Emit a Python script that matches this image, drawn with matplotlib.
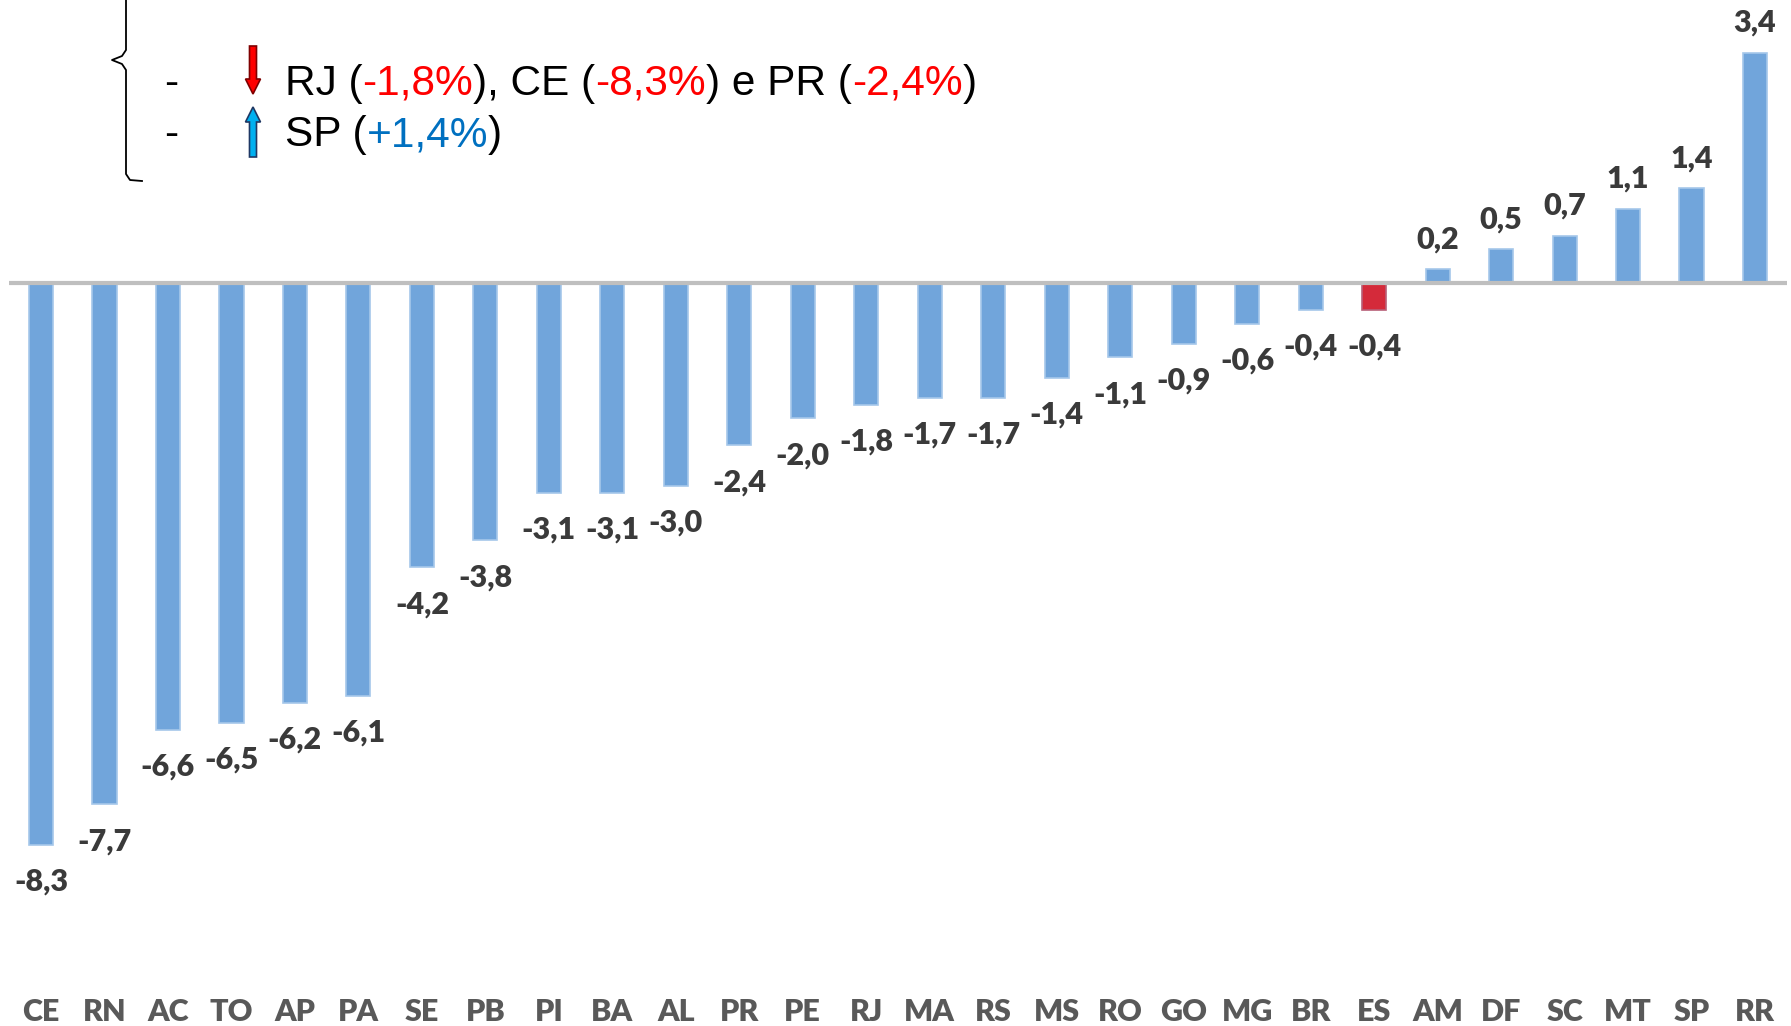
import matplotlib
matplotlib.use("Agg")
import matplotlib.pyplot as plt
from matplotlib.patches import FancyArrow

# data
states = ["CE", "RN", "AC", "TO", "AP", "PA", "SE", "PB", "PI", "BA", "AL", "PR", "PE", "RJ",
          "MA", "RS", "MS", "RO", "GO", "MG", "BR", "ES", "AM", "DF", "SC", "MT", "SP", "RR"]
values = [-8.3, -7.7, -6.6, -6.5, -6.2, -6.1, -4.2, -3.8, -3.1, -3.1, -3.0, -2.4, -2.0, -1.8,
          -1.7, -1.7, -1.4, -1.1, -0.9, -0.6, -0.4, -0.4, 0.2, 0.5, 0.7, 1.1, 1.4, 3.4]
highlight = "ES"

line1 = [("RJ (", "black"), ("-1,8%", "#ff0000"), ("), CE (", "black"), ("-8,3%", "#ff0000"),
         (") e PR (", "black"), ("-2,4%", "#ff0000"), (")", "black")]
line2 = [("SP (", "black"), ("+1,4%", "#0070c0"), (")", "black")]

W, H = 1791, 1026
fig = plt.figure(figsize=(W / 100, H / 100), dpi=100)
ax = fig.add_axes([0, 36 / H, 1, 1 - 36 / H])

x = list(range(len(states)))
colors = ["#d42a3a" if s == highlight else "#71a5db" for s in states]
edges = ["#b86078" if s == highlight else "#a5c7ea" for s in states]
ax.bar(x, values, width=0.38, color=colors, edgecolor=edges, linewidth=1.2, zorder=2)
ax.hlines(0, -0.5, 27.5, color="#bfbfbf", lw=3, zorder=3)

for xi, v in zip(x, values):
    off = -26.5 if v < 0 else 21.5
    ax.annotate(f"{v:.1f}".replace(".", ","), (xi, v), xytext=(0, off),
                textcoords="offset points", ha="center", va="center",
                fontsize=22, fontweight="heavy", color="#3a3a3a", family="Lato")

ax.set_xlim(-0.646, 27.567)
ax.set_ylim(-(990 - 283) / 67.7, 283 / 67.7)
ax.set_xticks(x, states, fontsize=22, fontweight="heavy", color="#595959", family="Lato")
ax.tick_params(axis="x", length=0, pad=6)
ax.set_yticks([])
for sp in ax.spines.values():
    sp.set_visible(False)

# annotation block top-left
txt = dict(fontsize=30.5, family="Liberation Sans")
for parts, base in [(line1, 95), (line2, 146)]:
    fig.text(171 / W, 1 - base / H, "-", ha="center", va="baseline", **txt)
    prev = fig.text(285 / W, 1 - base / H, parts[0][0], color=parts[0][1], va="baseline", **txt)
    for s, c in parts[1:]:
        prev = ax.annotate(s, xy=(1, 0), xycoords=prev, va="bottom", color=c,
                           annotation_clip=False, **txt)

fig.add_artist(FancyArrow(2.53, (H - 46) / 100, 0, -0.48, width=0.07, head_width=0.15,
                          head_length=0.15, length_includes_head=True, fc="#ff0000",
                          ec="#7f0000", lw=1.2, transform=fig.dpi_scale_trans))
fig.add_artist(FancyArrow(2.53, (H - 157) / 100, 0, 0.50, width=0.07, head_width=0.15,
                          head_length=0.15, length_includes_head=True, fc="#00b0f0",
                          ec="#1f3864", lw=1.2, transform=fig.dpi_scale_trans))

# brace
bx = [126, 126, 122, 112, 122, 126, 126, 130, 142]
by = [-5, 50, 56, 60, 64, 70, 174, 180, 181]
fig.add_artist(plt.Line2D([v / W for v in bx], [1 - v / H for v in by], color="black",
                          lw=1.3, transform=fig.transFigure))

fig.savefig("out.png", dpi=100)
